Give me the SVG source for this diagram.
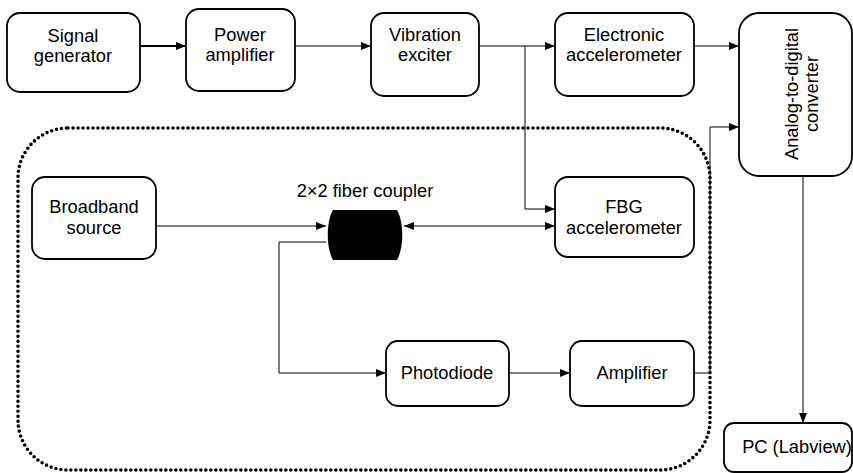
<svg xmlns="http://www.w3.org/2000/svg" width="853" height="473" viewBox="0 0 853 473">
<defs>
<marker id="arr" markerUnits="userSpaceOnUse" markerWidth="11" markerHeight="9" refX="10" refY="4" orient="auto"><path d="M0,0 L10,4 L0,8 Z" fill="#000"/></marker>
<marker id="arrs" markerUnits="userSpaceOnUse" markerWidth="11" markerHeight="9" refX="0" refY="4" orient="auto"><path d="M10,0 L0,4 L10,8 Z" fill="#000"/></marker>
<style>
.box{fill:#fff;stroke:#000;stroke-width:1.8}
.t{font-family:"Liberation Sans",Arial,sans-serif;font-size:18.3px;fill:#000;text-anchor:middle}
.c{fill:none;stroke:#000;stroke-width:1}
.dot{fill:none;stroke:#000;stroke-width:3.6;stroke-linecap:round;stroke-dasharray:0 5}
</style>
</defs>
<rect class="dot" x="18" y="128" width="692" height="342" rx="50"/>
<g id="connectors">
<line class="c" x1="140" y1="46" x2="186" y2="46" style="stroke-width:2" marker-end="url(#arr)"/>
<line class="c" x1="295" y1="46" x2="371" y2="46" marker-end="url(#arr)"/>
<line class="c" x1="479" y1="46" x2="555" y2="46" marker-end="url(#arr)"/>
<polyline class="c" points="525,46 525,209 555,209" marker-end="url(#arr)"/>
<line class="c" x1="694" y1="46" x2="739" y2="46" marker-end="url(#arr)"/>
<line class="c" x1="156" y1="226" x2="326" y2="226" marker-end="url(#arr)"/>
<line class="c" x1="404" y1="226" x2="555" y2="226" marker-start="url(#arrs)" marker-end="url(#arr)"/>
<polyline class="c" points="326,242 279,242 279,373 386,373" marker-end="url(#arr)"/>
<line class="c" x1="509" y1="373" x2="570" y2="373" marker-end="url(#arr)"/>
<polyline class="c" points="694,373 710,373 710,127 739,127" marker-end="url(#arr)"/>
<line class="c" x1="803" y1="176" x2="803" y2="423" marker-end="url(#arr)"/>
</g>
<g id="signal-generator"><rect class="box" x="7" y="13" width="133" height="79" rx="13"/><text class="t" x="73" y="42">Signal</text><text class="t" x="73" y="62">generator</text></g>
<g id="power-amplifier"><rect class="box" x="186" y="9" width="109" height="82" rx="13"/><text class="t" x="240" y="41">Power</text><text class="t" x="240" y="61">amplifier</text></g>
<g id="vibration-exciter"><rect class="box" x="371" y="13" width="108" height="83" rx="13"/><text class="t" x="425" y="41">Vibration</text><text class="t" x="425" y="61">exciter</text></g>
<g id="electronic-accelerometer"><rect class="box" x="555" y="13" width="139" height="83" rx="13"/><text class="t" x="624" y="41">Electronic</text><text class="t" x="624" y="61">accelerometer</text></g>
<g id="adc"><rect class="box" x="739" y="13" width="113" height="163" rx="20"/><text class="t" transform="translate(798,94) rotate(-90)">Analog-to-digital</text><text class="t" transform="translate(818,94) rotate(-90)">converter</text></g>
<g id="broadband-source"><rect class="box" x="32" y="177" width="124" height="82" rx="13"/><text class="t" x="94" y="213">Broadband</text><text class="t" x="94" y="234">source</text></g>
<g id="fiber-coupler"><path d="M333,210 H397 C404,222 404,248 397,260 H333 C326,248 326,222 333,210 Z" fill="#000"/><text class="t" x="365" y="197">2×2 fiber coupler</text></g>
<g id="fbg-accelerometer"><rect class="box" x="555" y="177" width="139" height="80" rx="13"/><text class="t" x="624" y="213">FBG</text><text class="t" x="624" y="234">accelerometer</text></g>
<g id="photodiode"><rect class="box" x="386" y="341" width="123" height="65" rx="12"/><text class="t" x="447" y="379">Photodiode</text></g>
<g id="amplifier"><rect class="box" x="570" y="341" width="124" height="65" rx="12"/><text class="t" x="632" y="379">Amplifier</text></g>
<g id="pc"><rect class="box" x="724" y="423" width="128" height="49" rx="10"/><text class="t" x="797" y="453">PC (Labview)</text></g>
</svg>
